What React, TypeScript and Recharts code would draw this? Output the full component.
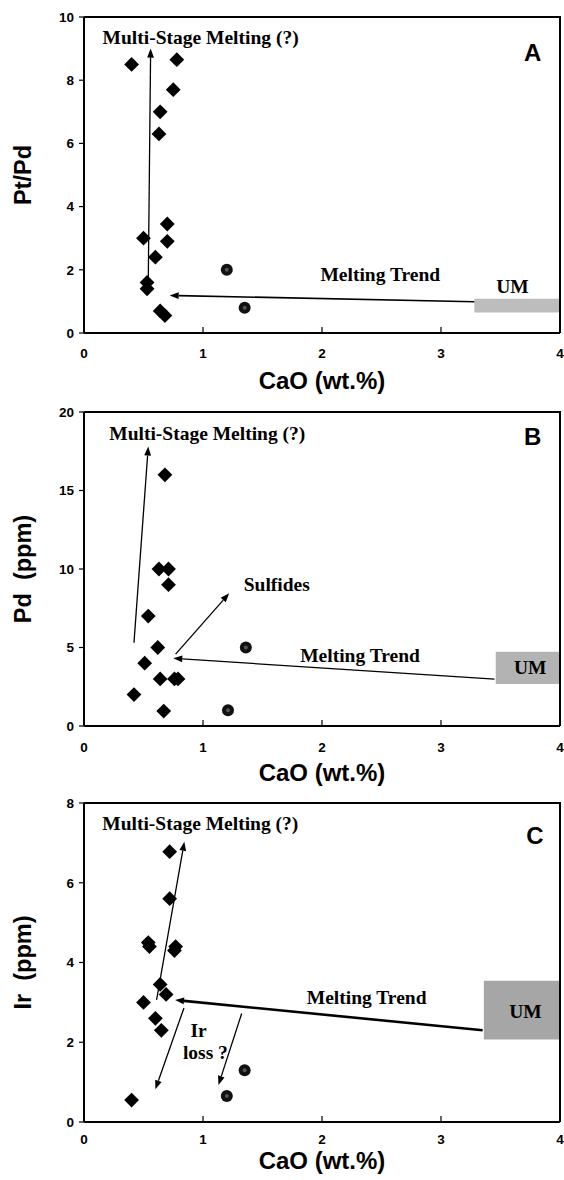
import React from "react";
import {
  ReferenceArea,
  ReferenceDot,
  ReferenceLine,
  Scatter,
  ScatterChart,
  XAxis,
  YAxis,
} from "recharts";

// ---- Panel A: Pt/Pd vs CaO ----
const A_CAO = [0.4, 0.78, 0.75, 0.64, 0.63, 0.7, 0.7, 0.5, 0.6, 0.53, 0.53, 0.64, 0.68];
const A_PTPD = [8.5, 8.65, 7.7, 7.0, 6.3, 3.45, 2.9, 3.0, 2.4, 1.6, 1.4, 0.7, 0.55];
const A_DOT_CAO = [1.2, 1.35];
const A_DOT_PTPD = [2.0, 0.8];

// ---- Panel B: Pd (ppm) vs CaO ----
const B_CAO = [0.68, 0.63, 0.71, 0.71, 0.54, 0.62, 0.51, 0.64, 0.76, 0.79, 0.42, 0.67];
const B_PD = [16, 10, 10, 9, 7, 5, 4, 3, 3, 3, 2, 0.95];
const B_DOT_CAO = [1.36, 1.21];
const B_DOT_PD = [5, 1];

// ---- Panel C: Ir (ppm) vs CaO ----
const C_CAO = [0.72, 0.72, 0.54, 0.55, 0.77, 0.76, 0.64, 0.69, 0.5, 0.6, 0.65, 0.4];
const C_IR = [6.78, 5.6, 4.5, 4.4, 4.4, 4.3, 3.45, 3.2, 3.0, 2.6, 2.3, 0.55];
const C_DOT_CAO = [1.35, 1.2];
const C_DOT_IR = [1.3, 0.65];

const X_MAX = 4;
const X_TICKS = [0, 1, 2, 3, 4];
const A_TICKS = [0, 2, 4, 6, 8, 10];
const B_TICKS = [0, 5, 10, 15, 20];
const C_TICKS = [0, 2, 4, 6, 8];

// trend arrows, in data units (from -> to, head at "to")
const A_ARROWS = [
  [0.54, 1.6, 0.56, 9.0],
  [3.28, 0.99, 0.72, 1.19],
];
const B_ARROWS = [
  [0.42, 5.3, 0.54, 17.8],
  [0.77, 4.58, 1.22, 8.45],
  [3.45, 2.99, 0.75, 4.31],
];
const C_ARROWS = [
  [0.61, 3.06, 0.843, 7.03],
  [0.84, 2.86, 0.6, 0.82],
  [1.325, 2.72, 1.13, 0.93],
  [3.35, 2.3, 0.765, 3.06],
];

// UM reference field [x1, x2, y1, y2]
const A_UM = [3.28, 4, 0.65, 1.08];
const B_UM = [3.46, 4, 2.68, 4.73];
const C_UM = [3.36, 4, 2.07, 3.54];

type Note = [string, number, number];
const A_NOTES: Note[] = [
  ["Multi-Stage Melting (?)", 0.98, 9.36],
  ["Melting Trend", 2.49, 1.87],
  ["UM", 3.6, 1.47],
];
const B_NOTES: Note[] = [
  ["Multi-Stage Melting (?)", 1.036, 18.64],
  ["Sulfides", 1.62, 9.03],
  ["Melting Trend", 2.32, 4.52],
  ["UM", 3.75, 3.74],
];
const C_NOTES: Note[] = [
  ["Multi-Stage Melting (?)", 0.977, 7.49],
  ["Melting Trend", 2.375, 3.14],
  ["UM", 3.71, 2.79],
  ["Ir", 0.963, 2.31],
  ["loss ?", 1.02, 1.76],
];

const SANS = "'Liberation Sans', Arial, sans-serif";
const SERIF = "'Liberation Serif', 'Times New Roman', serif";
const AXIS_H = 62;
const PLOT_LEFT = 84;
const PLOT_TOP = 17;
const RIGHT_GAP = 4;
const FRAME = { stroke: "#000", strokeWidth: 2 };

const zip = (xs: number[], ys: number[]) => xs.map((x, i) => ({ cao: x, v: ys[i] }));

const Diamond = (p: any) => {
  const { cx, cy } = p;
  const r = 7.4;
  return <polygon points={`${cx},${cy - r} ${cx + r},${cy} ${cx},${cy + r} ${cx - r},${cy}`} fill="#000" />;
};

const Dot = (p: any) => (
  <g>
    <circle cx={p.cx} cy={p.cy} r={6} fill="#111" />
    <circle cx={p.cx} cy={p.cy} r={2} fill="#555" />
  </g>
);

const NoMark = () => <g />;

function arrowShape(width: number) {
  return (p: any) => {
    const { x1, y1, x2, y2 } = p;
    if ([x1, y1, x2, y2].some((v) => v == null || Number.isNaN(v))) return <g />;
    const head = 9;
    const dx = x2 - x1;
    const dy = y2 - y1;
    const len = Math.hypot(dx, dy) || 1;
    const ux = dx / len;
    const uy = dy / len;
    const bx = x2 - ux * head;
    const by = y2 - uy * head;
    const hw = 3.4;
    const pts = `${x2},${y2} ${bx - uy * hw},${by + ux * hw} ${bx + uy * hw},${by - ux * hw}`;
    return (
      <g>
        <line x1={x1} y1={y1} x2={bx} y2={by} stroke="#000" strokeWidth={width} />
        <polygon points={pts} fill="#000" />
      </g>
    );
  };
}

const noteShape = (text: string, size = 19.5) => (p: any) => (
  <text
    x={p.cx}
    y={p.cy}
    dy="0.35em"
    textAnchor="middle"
    fontFamily={SERIF}
    fontWeight={700}
    fontSize={size}
    fill="#000"
  >
    {text}
  </text>
);

const letterShape = (text: string) => (p: any) => (
  <text x={p.cx} y={p.cy} dy="0.36em" textAnchor="middle" fontFamily={SANS} fontWeight={700} fontSize={24} fill="#000">
    {text}
  </text>
);

type PanelProps = {
  top: number;
  plotH: number;
  yMax: number;
  yTicks: number[];
  yTitle: string;
  titleGap: number;
  tickGap: number;
  diamonds: { cao: number; v: number }[];
  dots: { cao: number; v: number }[];
  arrows: number[][];
  heavy?: number;
  um: number[];
  umFill: string;
  notes: Note[];
  letter: Note;
};

function Panel(p: PanelProps) {
  const height = PLOT_TOP + p.plotH + AXIS_H;
  const frame = [
    { cao: 0, v: p.yMax },
    { cao: X_MAX, v: p.yMax },
    { cao: X_MAX, v: 0 },
  ];
  return (
    <div style={{ position: "absolute", left: 0, top: p.top, width: 564, height }}>
      <ScatterChart
        width={564}
        height={height}
        margin={{ top: PLOT_TOP, right: RIGHT_GAP, bottom: 0, left: 0 }}
        style={{ overflow: "visible" }}
      >
        <XAxis
          type="number"
          dataKey="cao"
          domain={[0, X_MAX]}
          ticks={X_TICKS}
          height={AXIS_H}
          tickSize={-6}
          tickMargin={p.tickGap + 6}
          axisLine={FRAME}
          tickLine={{ stroke: "#000", strokeWidth: 1.2 }}
          tick={{ fill: "#000", fontSize: 13.5, fontWeight: 700, fontFamily: SANS }}
          label={{
            content: (lp: any) => {
              const vb = lp.viewBox;
              return (
                <text
                  x={vb.x + vb.width / 2}
                  y={vb.y + p.titleGap}
                  dy="0.36em"
                  textAnchor="middle"
                  fontFamily={SANS}
                  fontWeight={700}
                  fontSize={24}
                  fill="#000"
                >
                  CaO (wt.%)
                </text>
              );
            },
          }}
        />
        <YAxis
          type="number"
          dataKey="v"
          domain={[0, p.yMax]}
          ticks={p.yTicks}
          width={PLOT_LEFT}
          tickSize={5}
          tickMargin={5}
          axisLine={FRAME}
          tickLine={{ stroke: "#000", strokeWidth: 1.2 }}
          tick={{ fill: "#000", fontSize: 13.5, fontWeight: 700, fontFamily: SANS }}
          label={{
            content: (lp: any) => {
              const vb = lp.viewBox;
              const cx = 23;
              const cy = vb.y + vb.height / 2;
              return (
                <text
                  x={cx}
                  y={cy}
                  dy="0.36em"
                  transform={`rotate(-90, ${cx}, ${cy})`}
                  textAnchor="middle"
                  fontFamily={SANS}
                  fontWeight={700}
                  fontSize={23.5}
                  fill="#000"
                  style={{ whiteSpace: "pre" }}
                >
                  {p.yTitle}
                </text>
              );
            },
          }}
        />
        <ReferenceArea x1={p.um[0]} x2={p.um[1]} y1={p.um[2]} y2={p.um[3]} fill={p.umFill} fillOpacity={1} stroke="none" />
        {p.arrows.map((a, i) => (
          <ReferenceLine
            key={i}
            segment={[
              { x: a[0], y: a[1] },
              { x: a[2], y: a[3] },
            ]}
            shape={arrowShape(i === p.arrows.length - 1 && p.heavy ? p.heavy : 1.3)}
          />
        ))}
        {p.notes.map((n, i) => (
          <ReferenceDot key={i} x={n[1]} y={n[2]} r={1} shape={noteShape(n[0])} />
        ))}
        <ReferenceDot x={p.letter[1]} y={p.letter[2]} r={1} shape={letterShape(p.letter[0])} />
        <Scatter
          data={frame}
          shape={NoMark}
          line={{ stroke: "#000", strokeWidth: 2, fill: "none" }}
          lineType="joint"
          isAnimationActive={false}
        />
        <Scatter data={p.diamonds} shape={Diamond} isAnimationActive={false} />
        <Scatter data={p.dots} shape={Dot} isAnimationActive={false} />
      </ScatterChart>
      {/* top and right edges of the box frame */}
      <div
        style={{
          position: "absolute",
          left: PLOT_LEFT,
          top: PLOT_TOP - 1,
          width: 564 - PLOT_LEFT - RIGHT_GAP + 1,
          height: p.plotH + 1,
          borderTop: "2px solid #000",
          borderRight: "2px solid #000",
          boxSizing: "border-box",
          pointerEvents: "none",
        }}
      />
    </div>
  );
}

export default function App() {
  return (
    <div style={{ position: "absolute", left: 0, top: 0, width: 564, height: 1180, background: "#fff" }}>
      <Panel
        top={0}
        plotH={316}
        yMax={10}
        yTicks={A_TICKS}
        yTitle="Pt/Pd"
        titleGap={47}
        tickGap={15}
        diamonds={zip(A_CAO, A_PTPD)}
        dots={zip(A_DOT_CAO, A_DOT_PTPD)}
        arrows={A_ARROWS}
        heavy={1.6}
        um={A_UM}
        umFill="#bdbdbd"
        notes={A_NOTES}
        letter={["A", 3.77, 8.89]}
      />
      <Panel
        top={395}
        plotH={314}
        yMax={20}
        yTicks={B_TICKS}
        yTitle="Pd  (ppm)"
        titleGap={46}
        tickGap={16}
        diamonds={zip(B_CAO, B_PD)}
        dots={zip(B_DOT_CAO, B_DOT_PD)}
        arrows={B_ARROWS}
        um={B_UM}
        umFill="#b3b3b3"
        notes={B_NOTES}
        letter={["B", 3.77, 18.44]}
      />
      <Panel
        top={786}
        plotH={319}
        yMax={8}
        yTicks={C_TICKS}
        yTitle="Ir  (ppm)"
        titleGap={38}
        tickGap={12}
        diamonds={zip(C_CAO, C_IR)}
        dots={zip(C_DOT_CAO, C_DOT_IR)}
        arrows={C_ARROWS}
        heavy={2.6}
        um={C_UM}
        umFill="#a6a6a6"
        notes={C_NOTES}
        letter={["C", 3.79, 7.18]}
      />
    </div>
  );
}
